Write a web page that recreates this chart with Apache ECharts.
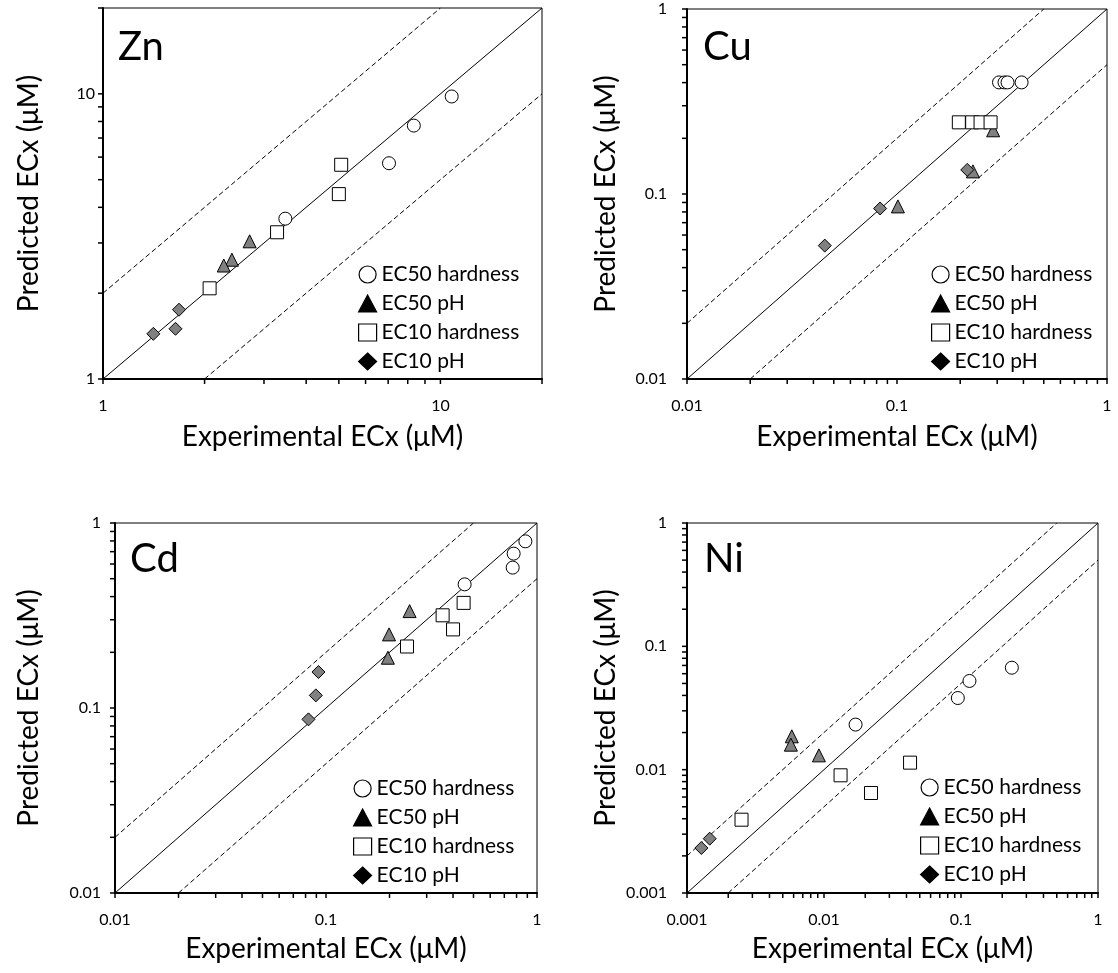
<!DOCTYPE html>
<html><head><meta charset="utf-8">
<script src="https://cdn.jsdelivr.net/npm/echarts@6/dist/echarts.min.js"></script>
<style>html,body{margin:0;padding:0;background:#fff}#c{width:1118px;height:973px}</style>
</head><body><div id="c"></div>
<script>
// ---------- Zn ----------
const znRange = [1, 20];
const znTickLabels = ['1', '10'];
const znMinor = [2, 3, 4, 5, 6, 7, 8, 9, 20];
const znEC50HardX = [10.8, 8.34, 7.04, 3.47];
const znEC50HardY = [9.79, 7.74, 5.71, 3.65];
const znEC50pHX = [2.72, 2.41, 2.28];
const znEC50pHY = [3.04, 2.62, 2.50];
const znEC10HardX = [5.08, 5.00, 3.28, 2.07];
const znEC10HardY = [5.64, 4.45, 3.27, 2.08];
const znEC10pHX = [1.68, 1.64, 1.41];
const znEC10pHY = [1.75, 1.50, 1.44];

// ---------- Cu ----------
const cuRange = [0.01, 1];
const cuTickLabels = ['0.01', '0.1', '1'];
const cuMinor = [0.02, 0.03, 0.04, 0.05, 0.06, 0.07, 0.08, 0.09, 0.2, 0.3, 0.4, 0.5, 0.6, 0.7, 0.8, 0.9];
const cuEC50HardX = [0.306, 0.325, 0.336, 0.392];
const cuEC50HardY = [0.401, 0.401, 0.401, 0.401];
const cuEC50pHX = [0.287, 0.230, 0.101];
const cuEC50pHY = [0.221, 0.1325, 0.0857];
const cuEC10HardX = [0.197, 0.228, 0.250, 0.279];
const cuEC10HardY = [0.244, 0.244, 0.244, 0.244];
const cuEC10pHX = [0.216, 0.0831, 0.0453];
const cuEC10pHY = [0.135, 0.0835, 0.0526];

// ---------- Cd ----------
const cdRange = [0.01, 1];
const cdTickLabels = ['0.01', '0.1', '1'];
const cdMinor = [0.02, 0.03, 0.04, 0.05, 0.06, 0.07, 0.08, 0.09, 0.2, 0.3, 0.4, 0.5, 0.6, 0.7, 0.8, 0.9];
const cdEC50HardX = [0.881, 0.775, 0.767, 0.454];
const cdEC50HardY = [0.796, 0.683, 0.574, 0.466];
const cdEC50pHX = [0.249, 0.199, 0.1965];
const cdEC50pHY = [0.334, 0.250, 0.187];
const cdEC10HardX = [0.449, 0.357, 0.400, 0.242];
const cdEC10HardY = [0.370, 0.317, 0.266, 0.215];
const cdEC10pHX = [0.0921, 0.0895, 0.0826];
const cdEC10pHY = [0.1565, 0.117, 0.0868];

// ---------- Ni ----------
const niRange = [0.001, 1];
const niTickLabels = ['0.001', '0.01', '0.1', '1'];
const niMinor = [0.002, 0.003, 0.004, 0.005, 0.006, 0.007, 0.008, 0.009, 0.02, 0.03, 0.04, 0.05, 0.06, 0.07, 0.08, 0.09, 0.2, 0.3, 0.4, 0.5, 0.6, 0.7, 0.8, 0.9];
const niEC50HardX = [0.235, 0.1153, 0.0948, 0.0170];
const niEC50HardY = [0.0671, 0.0524, 0.0381, 0.0232];
const niEC50pHX = [0.00582, 0.00573, 0.00918];
const niEC50pHY = [0.01864, 0.01595, 0.01306];
const niEC10HardX = [0.01321, 0.02203, 0.04247, 0.00250];
const niEC10HardY = [0.00900, 0.00647, 0.0114, 0.00393];
const niEC10pHX = [0.001465, 0.001273];
const niEC10pHY = [0.002758, 0.002316];

const seriesNames = ['EC50 hardness', 'EC50 pH', 'EC10 hardness', 'EC10 pH'];
const lineFactors = [1, 2, 0.5];

const FONT = 'Lato';
const panels = [
  {name: 'Zn', range: znRange, labels: znTickLabels, minor: znMinor,
   sets: [[znEC50HardX, znEC50HardY], [znEC50pHX, znEC50pHY], [znEC10HardX, znEC10HardY], [znEC10pHX, znEC10pHY]],
   grid: {left: 103, top: 8, width: 439, height: 371}, ylm: 8, xnameGap: 44, ynameGap: 60,
   legend: {left: 358, top: 264}, title: {left: 118, top: 27}},
  {name: 'Cu', range: cuRange, labels: cuTickLabels, minor: cuMinor,
   sets: [[cuEC50HardX, cuEC50HardY], [cuEC50pHX, cuEC50pHY], [cuEC10HardX, cuEC10HardY], [cuEC10pHX, cuEC10pHY]],
   grid: {left: 687, top: 9, width: 420, height: 370}, ylm: 20, xnameGap: 44, ynameGap: 67,
   legend: {left: 931, top: 264}, title: {left: 703, top: 27}},
  {name: 'Cd', range: cdRange, labels: cdTickLabels, minor: cdMinor,
   sets: [[cdEC50HardX, cdEC50HardY], [cdEC50pHX, cdEC50pHY], [cdEC10HardX, cdEC10HardY], [cdEC10pHX, cdEC10pHY]],
   grid: {left: 115, top: 523, width: 422, height: 370}, ylm: 14, xnameGap: 42, ynameGap: 72,
   legend: {left: 353, top: 778}, title: {left: 130, top: 539}},
  {name: 'Ni', range: niRange, labels: niTickLabels, minor: niMinor,
   sets: [[niEC50HardX, niEC50HardY], [niEC50pHX, niEC50pHY], [niEC10HardX, niEC10HardY], [niEC10pHX, niEC10pHY]],
   grid: {left: 687, top: 523, width: 411, height: 370}, ylm: 20, xnameGap: 42, ynameGap: 67,
   legend: {left: 920, top: 777}, title: {left: 704, top: 539}}
];

const symbols = [
  {symbol: 'circle', color: '#ffffff', legendColor: '#ffffff'},
  {symbol: 'triangle', color: '#808080', legendColor: '#000000'},
  {symbol: 'rect', color: '#ffffff', legendColor: '#ffffff'},
  {symbol: 'diamond', color: '#808080', legendColor: '#000000'}
];

function fmt(labels) {
  return function (v) {
    for (const s of labels) {
      const n = parseFloat(s);
      if (Math.abs(v - n) <= n * 1e-6) return s;
    }
    return '';
  };
}

const grid = [], xAxis = [], yAxis = [], series = [], legend = [], title = [];
panels.forEach((p, gi) => {
  grid.push(Object.assign({show: true, borderColor: '#000', borderWidth: 1, containLabel: false}, p.grid));
  const common = {
    type: 'log', logBase: 10, gridIndex: gi, min: p.range[0], max: p.range[1],
    axisLine: {show: true, onZero: false, lineStyle: {color: '#000', width: 2}},
    axisTick: {show: false}, splitLine: {show: false}, minorTick: {show: false}, minorSplitLine: {show: false},
    nameLocation: 'middle', nameTextStyle: {fontFamily: FONT, fontSize: 28, color: '#000'}
  };
  xAxis.push(Object.assign({}, common, {
    name: 'Experimental ECx (μM)', nameGap: p.xnameGap,
    axisLabel: {margin: 19, color: '#000', fontFamily: FONT, fontSize: 16, formatter: fmt(p.labels), showMinLabel: true, showMaxLabel: true}
  }));
  yAxis.push(Object.assign({}, common, {
    name: 'Predicted ECx (μM)', nameGap: p.ynameGap, nameRotate: 90,
    axisLabel: {margin: p.ylm, color: '#000', fontFamily: FONT, fontSize: 16, formatter: fmt(p.labels), showMinLabel: true, showMaxLabel: true}
  }));
  lineFactors.forEach((f) => {
    const lo = p.range[0], hi = p.range[1];
    const x1 = f >= 1 ? lo : lo / f, x2 = f >= 1 ? hi / f : hi;
    series.push({
      type: 'line', xAxisIndex: gi, yAxisIndex: gi, silent: true, symbol: 'none', z: 1,
      data: [[x1, x1 * f], [x2, x2 * f]],
      lineStyle: {color: '#000', width: 1, type: f === 1 ? 'solid' : [5, 3]}
    });
  });
  const allTicks = p.labels.map(parseFloat).concat(p.minor);
  series.push({
    type: 'custom', xAxisIndex: gi, yAxisIndex: gi, silent: true, clip: false, z: 6,
    data: allTicks.map(v => [v, p.range[0]]),
    renderItem: (params, api) => {
      const pt = api.coord([api.value(0), api.value(1)]);
      return {type: 'line', shape: {x1: pt[0], y1: pt[1], x2: pt[0], y2: pt[1] + 5}, style: {stroke: '#000', lineWidth: 1.5}};
    }
  });
  series.push({
    type: 'custom', xAxisIndex: gi, yAxisIndex: gi, silent: true, clip: false, z: 6,
    data: allTicks.map(v => [p.range[0], v]),
    renderItem: (params, api) => {
      const pt = api.coord([api.value(0), api.value(1)]);
      return {type: 'line', shape: {x1: pt[0] - 5, y1: pt[1], x2: pt[0], y2: pt[1]}, style: {stroke: '#000', lineWidth: 1.5}};
    }
  });
  p.sets.forEach((s, si) => {
    const data = s[0].map((x, i) => [x, s[1][i]]);
    series.push({
      type: 'scatter', name: seriesNames[si], xAxisIndex: gi, yAxisIndex: gi, z: 4,
      symbol: symbols[si].symbol, symbolSize: 13,
      itemStyle: {color: symbols[si].color, borderColor: '#000', borderWidth: 1, opacity: 1},
      data: data
    });
  });
  legend.push({
    left: p.legend.left, top: p.legend.top, orient: 'vertical', itemWidth: 18, itemHeight: 17, itemGap: 8,
    itemTextGap: 14, selectedMode: false, padding: 0,
    textStyle: {fontFamily: FONT, fontSize: 21, color: '#000', lineHeight: 17},
    data: seriesNames.map((n, si) => ({
      name: n, icon: symbols[si].symbol,
      itemStyle: {color: symbols[si].legendColor, borderColor: '#000', borderWidth: 1.2}
    }))
  });
  title.push({text: p.name, left: p.title.left, top: p.title.top, padding: 0,
    textStyle: {fontFamily: FONT, fontSize: 40, fontWeight: 'normal', color: '#000'}});
});

const chart = echarts.init(document.getElementById('c'), null, {renderer: 'canvas'});
chart.setOption({animation: false, backgroundColor: '#fff', title, grid, xAxis, yAxis, legend, series});
</script>
</body></html>
